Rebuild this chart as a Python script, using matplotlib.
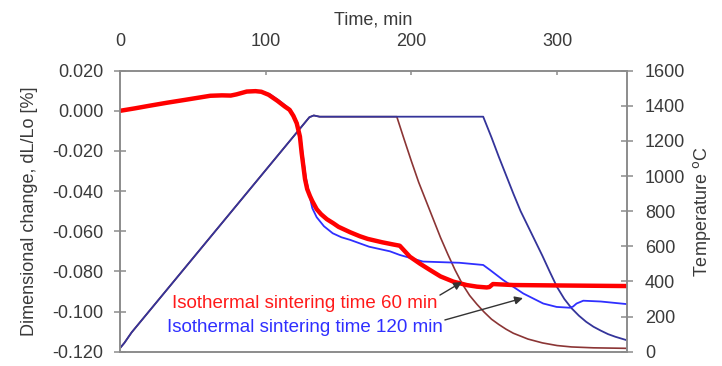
import matplotlib.pyplot as plt
from matplotlib.ticker import FormatStrFormatter

plt.rcParams['font.family'] = ['Liberation Sans', 'DejaVu Sans']

# dimensional change, 60 min hold (thick red)
t_60 = [0, 10, 20, 32, 45, 62, 70, 76, 80, 87, 93, 97, 102, 108, 113, 116.4, 119,
        121.3, 123.5, 124.7, 127, 128.5, 130.4, 132, 135, 138, 142, 146.4, 150,
        158, 164.7, 170, 180, 187.6, 192, 199, 206, 212.8, 220, 228.8, 238, 245,
        251.7, 253.5, 256, 270, 300, 348]
dl_60 = [0.000, 0.0012, 0.0025, 0.0040, 0.0055, 0.0075, 0.0077, 0.0076, 0.0082,
         0.0096, 0.0098, 0.0095, 0.0080, 0.0050, 0.0022, 0.0005, -0.0025,
         -0.0062, -0.0128, -0.0210, -0.0340, -0.0390, -0.0425, -0.0450, -0.0490,
         -0.0515, -0.0540, -0.0560, -0.0578, -0.0605, -0.0625, -0.0638, -0.0655,
         -0.0666, -0.0672, -0.0727, -0.0762, -0.0793, -0.0825, -0.0851, -0.0868,
         -0.0876, -0.0880, -0.0878, -0.0863, -0.0868, -0.0870, -0.0873]

# dimensional change, 120 min hold (thin blue)
t_120 = [0, 10, 20, 32, 45, 62, 70, 76, 80, 87, 93, 97, 103, 109, 114, 117, 119.5,
         122, 124, 125.5, 127.5, 130, 132, 135, 140, 146, 152, 158, 171, 185.3,
         192, 208, 233, 249.3, 254, 263, 276.8, 290.5, 299.7, 308.8, 311, 313.4,
         318, 330, 348]
dl_120 = [0.000, 0.0012, 0.0025, 0.0040, 0.0055, 0.0075, 0.0077, 0.0076, 0.0082,
          0.0096, 0.0098, 0.0097, 0.0082, 0.0052, 0.0024, 0.0006, -0.0025,
          -0.0065, -0.0135, -0.0220, -0.0330, -0.0420, -0.0485, -0.0530, -0.0575,
          -0.0610, -0.0630, -0.0643, -0.0677, -0.0700, -0.0718, -0.0751, -0.0757,
          -0.0768, -0.0793, -0.0843, -0.0910, -0.0960, -0.0977, -0.0981, -0.0975,
          -0.0960, -0.0946, -0.0950, -0.0963]

# furnace temperature programs
tc_120 = [0, 3, 8, 130, 133, 137, 249.3, 255, 260, 265, 270, 275, 280, 285, 290,
          295, 300, 305, 310, 315, 320, 325, 330, 335, 340, 348]
temp_120 = [20, 50, 110, 1335, 1345, 1338, 1338, 1220, 1110, 1005, 900, 800, 715,
            630, 545, 455, 368, 300, 247, 205, 170, 142, 120, 100, 85, 65]

tc_60 = [0, 3, 8, 130, 133, 137, 190, 195, 200, 205, 210, 215, 220, 225, 230,
         235, 240, 245, 250, 255, 260, 265, 270, 280, 290, 300, 310, 325, 348]
temp_60 = [20, 50, 110, 1335, 1345, 1338, 1338, 1210, 1085, 965, 860, 755, 650,
           555, 465, 385, 320, 270, 225, 185, 155, 128, 105, 72, 50, 35, 27, 22, 19]

dl_ticks = [0.02, 0.0, -0.02, -0.04, -0.06, -0.08, -0.10, -0.12]
temp_ticks = [0, 200, 400, 600, 800, 1000, 1200, 1400, 1600]
time_ticks = [0, 100, 200, 300]

frame = '#8c8c8c'
txt = '#3a3a3a'

fig = plt.figure(figsize=(7.22, 3.66), dpi=100)
ax = fig.add_axes([0.1662, 0.0391, 0.7022, 0.7678])
ax2 = ax.twinx()
ax.set_zorder(ax2.get_zorder() + 1)
ax.patch.set_visible(False)

ax2.plot(tc_60, temp_60, color='#8b3535', lw=1.2)
ax2.plot(tc_120, temp_120, color='#34349a', lw=1.3)

ax.plot(t_120, dl_120, color='#2f2fff', lw=1.3)
ax.plot(t_60, dl_60, color='#ff0000', lw=3.2, solid_capstyle='butt',
        solid_joinstyle='round')

ax.set_xlim(0, 348)
ax.set_ylim(-0.12, 0.02)
ax2.set_ylim(0, 1600)
ax.set_yticks(dl_ticks)
ax.yaxis.set_major_formatter(FormatStrFormatter('%.3f'))
ax2.set_yticks(temp_ticks)
ax.set_xticks(time_ticks)

ax.xaxis.tick_top()
ax.xaxis.set_label_position('top')
ax.set_xlabel('Time, min', fontsize=13, color=txt, labelpad=6)
ax.set_ylabel('Dimensional change, dL/Lo [%]', fontsize=13, color=txt, labelpad=10)
ax2.set_ylabel('Temperature $^{\\rm o}$C', fontsize=13, color=txt, labelpad=4)

for a in (ax, ax2):
    for s in a.spines.values():
        s.set_color(frame)
        s.set_linewidth(1.2)
ax.tick_params(axis='y', direction='inout', length=8, width=1.1, color=frame,
               labelsize=13, labelcolor=txt, pad=8)
ax.tick_params(axis='x', direction='in', length=3, width=1.1, color=frame,
               labelsize=13, labelcolor=txt, pad=15)
ax2.tick_params(axis='y', direction='inout', length=8, width=1.1, color=frame,
                labelsize=13, labelcolor=txt, pad=9)

ax.text(35.7, -0.0958, 'Isothermal sintering time 60 min', color='#ff1a1a',
        fontsize=13.5, va='center', ha='left')
ax.text(32.3, -0.1077, 'Isothermal sintering time 120 min', color='#2f2fff',
        fontsize=13.5, va='center', ha='left')
arrow = dict(arrowstyle='-|>', color='#333333', lw=1.0, mutation_scale=12,
             shrinkA=0, shrinkB=0)
ax.annotate('', xy=(234.7, -0.0853), xytext=(219.6, -0.0918), arrowprops=arrow)
ax.annotate('', xy=(276.6, -0.0933), xytext=(223.0, -0.1042), arrowprops=arrow)

fig.savefig('out.png', dpi=100)
